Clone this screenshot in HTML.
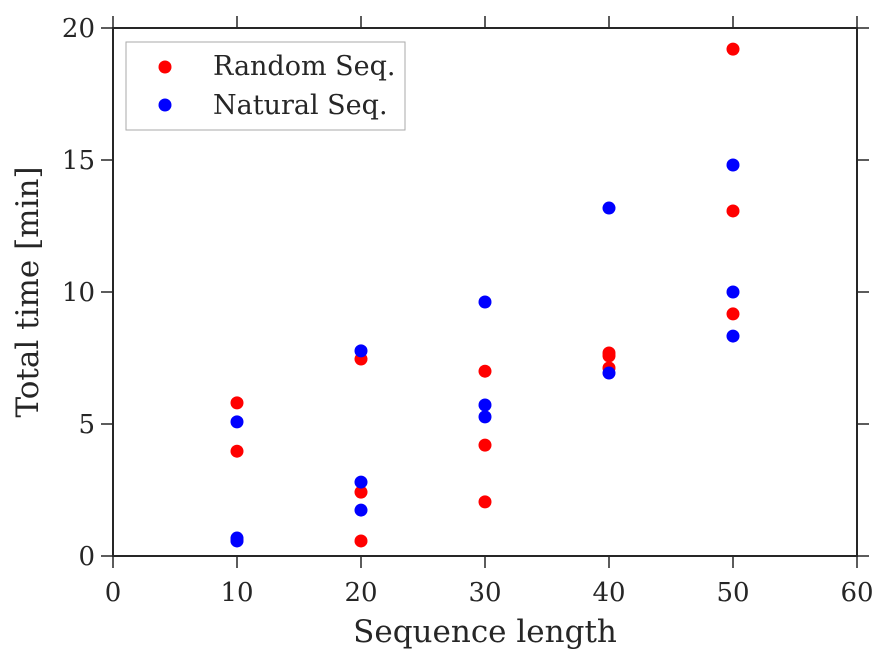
<!DOCTYPE html>
<html><head><meta charset="utf-8"><style>
html,body{margin:0;padding:0;background:#fff;}
svg text{font-family:"DejaVu Serif","Liberation Serif",serif;fill:#262626;}
</style></head><body>
<svg id="chart" width="887" height="664" xmlns="http://www.w3.org/2000/svg">
<g id="axes"></g>
<g id="points"></g>
<g id="legend">
<rect x="126" y="42" width="279" height="88" fill="#fff" stroke="#aaa" stroke-width="1"/>
<circle cx="165" cy="67" r="6.5" fill="#ff0000"/>
<text x="213" y="75" font-size="27">Random Seq.</text>
<circle cx="165" cy="105" r="6.5" fill="#0000ff"/>
<text x="213" y="114" font-size="27">Natural Seq.</text>
</g>
</svg>
<script>
const xTicks=[0,10,20,30,40,50,60];
const yTicks=[0,5,10,15,20];
const randomX=[10,10,10,20,20,20,30,30,30,40,40,40,50,50,50];
const randomY=[5.8,3.97,0.6,7.46,2.42,0.57,7.0,4.2,2.05,7.69,7.58,7.12,19.2,13.07,9.17];
const natX=[10,10,10,20,20,20,30,30,30,40,40,50,50,50];
const natY=[5.08,0.68,0.57,7.77,2.8,1.74,9.62,5.72,5.27,13.18,6.93,14.81,10.0,8.33];
const L=113,R=857,T=28,B=556;
const sx=v=>L+(v-0)/(60-0)*(R-L);
const sy=v=>B-(v-0)/(20-0)*(B-T);
const NS='http://www.w3.org/2000/svg';
const ax=document.getElementById('axes');
function mk(tag,attrs,parent){const e=document.createElementNS(NS,tag);for(const k in attrs)e.setAttribute(k,attrs[k]);parent.appendChild(e);return e;}
const frame=mk('rect',{x:L,y:T,width:R-L,height:B-T,fill:'none',stroke:'#262626','stroke-width':2},ax);


xTicks.forEach(v=>{
 const x=sx(v);
 mk('line',{x1:x,y1:B,x2:x,y2:B+12,stroke:'#262626','stroke-width':1.5},ax);
 mk('line',{x1:x,y1:T,x2:x,y2:T-12,stroke:'#262626','stroke-width':1.5},ax);
 const t=mk('text',{x:x,y:B+45,'font-size':26,'text-anchor':'middle'},ax);t.textContent=v;
 
 
});
yTicks.forEach(v=>{
 const y=sy(v);
 mk('line',{x1:L,y1:y,x2:L-12,y2:y,stroke:'#262626','stroke-width':1.5},ax);
 mk('line',{x1:R,y1:y,x2:R+12,y2:y,stroke:'#262626','stroke-width':1.5},ax);
 const t=mk('text',{x:L-18,y:y+9,'font-size':26,'text-anchor':'end'},ax);t.textContent=v;
 
 
});
const xl=mk('text',{x:485,y:642,'font-size':31,'text-anchor':'middle'},ax);xl.textContent='Sequence length';


const yl=mk('text',{x:38,y:292,'font-size':31,'text-anchor':'middle',transform:'rotate(-90 38 292)'},ax);yl.textContent='Total time [min]';


const pg=document.getElementById('points');
randomX.forEach((x,i)=>{const c=mk('circle',{cx:sx(x),cy:sy(randomY[i]),r:6.5,fill:'#ff0000'},pg);
 
 });
natX.forEach((x,i)=>{const c=mk('circle',{cx:sx(x),cy:sy(natY[i]),r:6.5,fill:'#0000ff'},pg);
 
 });
</script>
</body></html>
